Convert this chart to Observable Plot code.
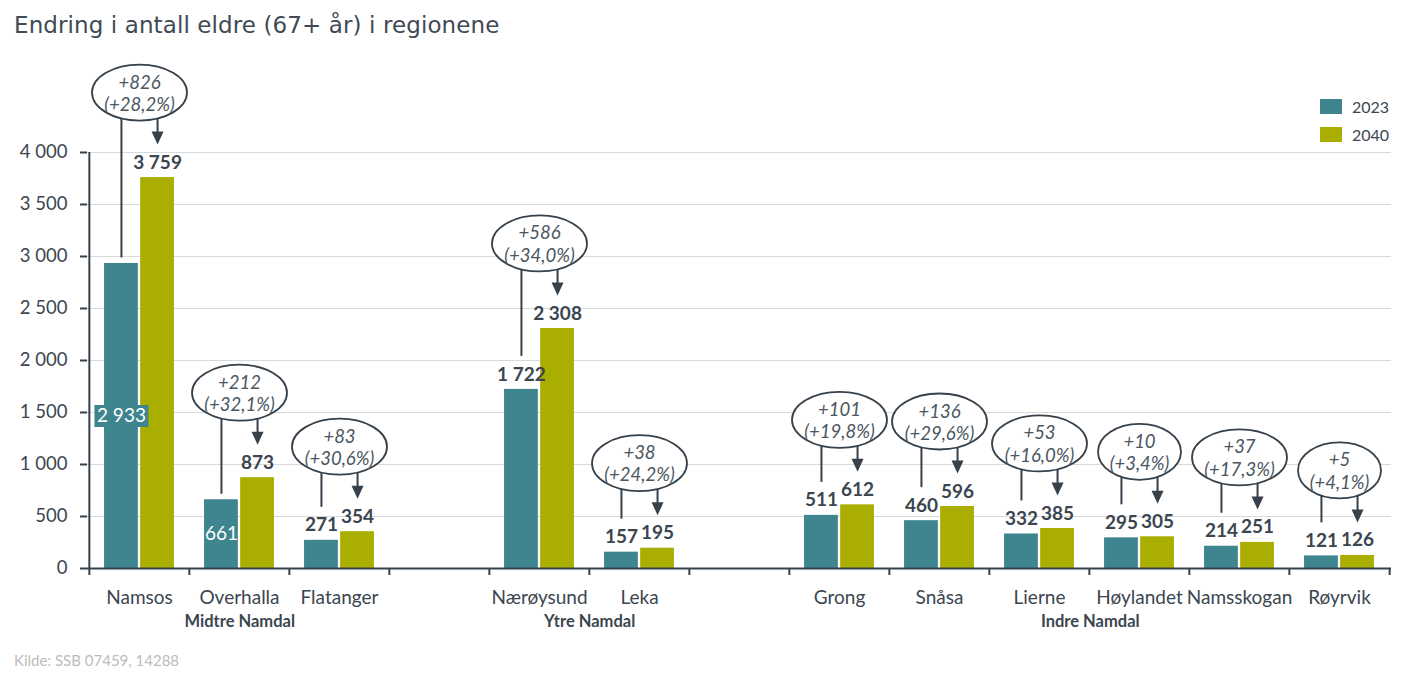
<!DOCTYPE html>
<html>
<head>
<meta charset="utf-8">
<script src="https://cdn.jsdelivr.net/npm/d3@7"></script>
<script src="https://cdn.jsdelivr.net/npm/@observablehq/plot@0.6"></script>
<style>
  body { margin: 0; background: #fff; }
  #wrap { position: relative; width: 1405px; height: 681px; overflow: hidden; }
  #chart { position: absolute; left: 0; top: 0; }
  #chart svg { display: block; }
  #title { position: absolute; left: 14px; top: 14px; font-family: "DejaVu Sans", sans-serif; font-size: 23px; line-height: 23px; letter-spacing: 0.1px; color: #3f4a54; white-space: nowrap; }
  #caption { position: absolute; left: 14px; top: 651px; font-family: Lato, sans-serif; font-size: 15px; line-height: 18px; color: #bcbcbc; white-space: nowrap; }
  .leg { position: absolute; left: 1320px; height: 15px; display: flex; align-items: center; font-family: Lato, sans-serif; font-size: 16px; color: #3b4650; }
  .leg span.sw { display: inline-block; width: 22px; height: 15px; margin-right: 10px; }
</style>
</head>
<body>
<div id="wrap">
  <div id="chart"></div>
  <div id="title"></div>
  <div id="legend"></div>
  <div id="caption"></div>
</div>
<script>
// ---- Data ----
const titleText = "Endring i antall eldre (67+ år) i regionene";
const captionText = "Kilde: SSB 07459, 14288";
const seriesNames = ["2023", "2040"];
const municipalities = ["Namsos", "Overhalla", "Flatanger", "Nærøysund", "Leka", "Grong", "Snåsa", "Lierne", "Høylandet", "Namsskogan", "Røyrvik"];
const values2023 = [2933, 661, 271, 1722, 157, 511, 460, 332, 295, 214, 121];
const values2040 = [3759, 873, 354, 2308, 195, 612, 596, 385, 305, 251, 126];
const groupNames = ["Midtre Namdal", "Ytre Namdal", "Indre Namdal"];
const groupMembers = [
  ["Namsos", "Overhalla", "Flatanger"],
  ["Nærøysund", "Leka"],
  ["Grong", "Snåsa", "Lierne", "Høylandet", "Namsskogan", "Røyrvik"]
];
const yTicks = [0, 500, 1000, 1500, 2000, 2500, 3000, 3500, 4000];

// ---- Config (style / layout) ----
const teal = "#3f858f", olive = "#aaae00", ink = "#3b4650", lineInk = "#36414b";
const W = 1405, H = 681, mTop = 152, mBottom = 113, mLeft = 87, mRight = 14;
const insideLabel = ["Namsos", "Overhalla"];   // 2023 label drawn inside the bar
const boxedLabel = ["Namsos"];                 // inside label with a coloured box

const xDomain = [];
groupMembers.forEach((g, i) => { if (i > 0) xDomain.push("_gap" + i); xDomain.push(...g); });
const slot = (W - mLeft - mRight) / xDomain.length;
const yMax = yTicks[yTicks.length - 1];
const k = yMax / (H - mTop - mBottom); // data units per pixel
const fmt = d => d3.format(",")(d).replace(/,/g, " ");
const pctFmt = p => d3.format(".1f")(p).replace(".", ",");

const rows = municipalities.map((m, i) => {
  const a = values2023[i], b = values2040[i];
  const diff = b - a;
  return {
    m, a, b,
    diffLabel: (diff >= 0 ? "+" : "") + diff,
    pctLabel: "(" + (diff >= 0 ? "+" : "") + pctFmt(diff / a * 100) + "%)",
    inside: insideLabel.includes(m),
    boxed: boxedLabel.includes(m)
  };
});
const outside = rows.filter(d => !d.inside);
const inside = rows.filter(d => d.inside);
const boxed = rows.filter(d => d.boxed);

const ellipseY = d => d.b + 85 * k;
const offA = -slot * 0.18, offB = slot * 0.18;

function ellipseSymbol(ry) {
  return {
    draw(ctx, size) {
      const rx = Math.sqrt(size / Math.PI), c = 0.5523;
      ctx.moveTo(-rx, 0);
      ctx.bezierCurveTo(-rx, -ry * c, -rx * c, -ry, 0, -ry);
      ctx.bezierCurveTo(rx * c, -ry, rx, -ry * c, rx, 0);
      ctx.bezierCurveTo(rx, ry * c, rx * c, ry, 0, ry);
      ctx.bezierCurveTo(-rx * c, ry, -rx, ry * c, -rx, 0);
      ctx.closePath();
    }
  };
}
const triangleDown = {
  draw(ctx) { ctx.moveTo(-6, -13); ctx.lineTo(6, -13); ctx.lineTo(0, 0); ctx.closePath(); }
};
const rectSymbol = (w, h) => ({
  draw(ctx) { ctx.moveTo(-w / 2, -h / 2); ctx.lineTo(w / 2, -h / 2); ctx.lineTo(w / 2, h / 2); ctx.lineTo(-w / 2, h / 2); ctx.closePath(); }
});

const groupMarks = groupNames.map((name, i) => {
  const g = groupMembers[i];
  return Plot.text([{ name, first: g[0] }], {
    x: "first", dx: (g.length - 1) * slot / 2, frameAnchor: "bottom", dy: 58,
    text: "name", fontWeight: "bold", fontSize: 16.5, fill: ink, letterSpacing: "-0.3px"
  });
});

const chart = Plot.plot({
  width: W, height: H,
  marginTop: mTop, marginBottom: mBottom, marginLeft: mLeft, marginRight: mRight,
  style: { fontFamily: "Lato, sans-serif", color: ink, background: "transparent", overflow: "visible" },
  x: { type: "band", domain: xDomain, padding: 0 },
  y: { domain: [0, yMax] },
  r: { type: "identity" },
  marks: [
    Plot.ruleY(yTicks.slice(1), { stroke: "#d9d9d9", strokeWidth: 1 }),
    Plot.barY(rows, { x: "m", y: "a", fill: teal, insetLeft: slot * 0.15, insetRight: slot * 0.51 }),
    Plot.barY(rows, { x: "m", y: "b", fill: olive, insetLeft: slot * 0.51, insetRight: slot * 0.15 }),
    // connectors
    Plot.ruleX(rows, { x: "m", dx: offA, y1: ellipseY, y2: d => d.a + (d.inside ? 5.5 : 33) * k, stroke: lineInk, strokeWidth: 2 }),
    Plot.ruleX(rows, { x: "m", dx: offB, y1: ellipseY, y2: d => d.b + 42 * k, stroke: lineInk, strokeWidth: 2 }),
    Plot.dot(rows, { x: "m", dx: offB, y: d => d.b + 33 * k, r: 1, symbol: triangleDown, fill: lineInk, stroke: "none" }),
    // ellipses with change labels
    Plot.dot(rows, { x: "m", y: ellipseY, r: d => 6 * d.pctLabel.length - 0.5, symbol: ellipseSymbol(28), fill: "white", stroke: lineInk, strokeWidth: 1.8 }),
    Plot.text(rows, { x: "m", y: ellipseY, text: d => d.diffLabel + "\n" + d.pctLabel, fontStyle: "italic", fontSize: 18.5, lineHeight: 1.2, fill: "#4b5661" }),
    // value labels
    Plot.text(outside, { x: "m", y: "a", dx: offA, dy: -15, text: d => fmt(d.a), fontWeight: "bold", fontSize: 19, fill: ink }),
    Plot.text(rows, { x: "m", y: "b", dx: offB, dy: -15, text: d => fmt(d.b), fontWeight: "bold", fontSize: 19, fill: ink }),
    Plot.dot(boxed, { x: "m", y: d => d.a / 2, dx: offA, r: 1, symbol: rectSymbol(54, 22), fill: teal, stroke: "none" }),
    Plot.text(inside, { x: "m", y: d => d.a / 2, dx: offA, text: d => fmt(d.a), fontSize: 19, fill: "white" }),
    // axes
    Plot.ruleY([0], { stroke: lineInk, strokeWidth: 2 }),
    Plot.ruleX([xDomain[0]], { dx: -slot / 2, y1: 0, y2: yMax, stroke: lineInk, strokeWidth: 2 }),
    Plot.ruleX(xDomain, { dx: -slot / 2, y1: 0, y2: -7 * k, stroke: lineInk, strokeWidth: 2 }),
    Plot.ruleX([xDomain[xDomain.length - 1]], { dx: slot / 2, y1: 0, y2: -7 * k, stroke: lineInk, strokeWidth: 2 }),
    Plot.axisY({ ticks: yTicks, tickSize: 7, tickPadding: 13, tickFormat: fmt, fontSize: 18.5, stroke: lineInk, strokeWidth: 2, label: null }),
    Plot.axisX({ tickSize: 0, tickPadding: 22, tickFormat: d => d.startsWith("_gap") ? "" : d, fontSize: 19, label: null }),
    ...groupMarks
  ]
});
document.getElementById("chart").appendChild(chart);

document.getElementById("title").textContent = titleText;
document.getElementById("caption").textContent = captionText;
const leg = document.getElementById("legend");
[teal, olive].forEach((c, i) => {
  const row = document.createElement("div");
  row.className = "leg";
  row.style.top = (99 + i * 28) + "px";
  row.innerHTML = `<span class="sw" style="background:${c}"></span><span>${seriesNames[i]}</span>`;
  leg.appendChild(row);
});
</script>
</body>
</html>
